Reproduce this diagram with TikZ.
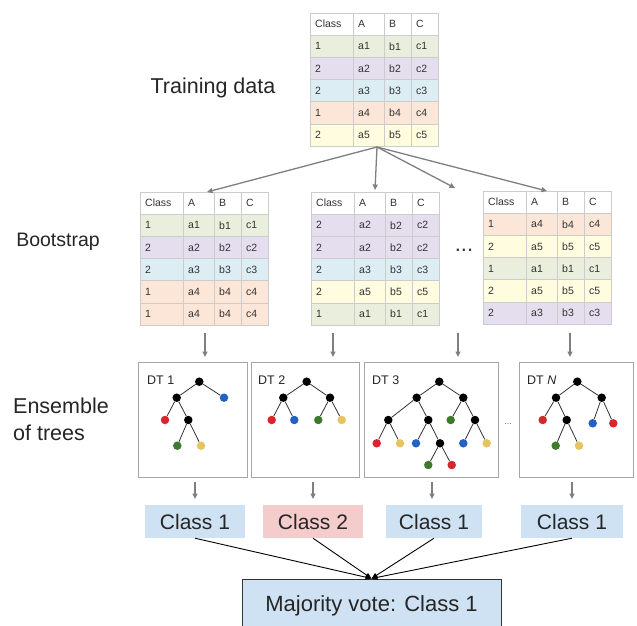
\documentclass[tikz,border=0pt]{standalone}
\usepackage{fontspec}
\setmainfont{Liberation Sans}
\usetikzlibrary{arrows.meta}
\definecolor{rowA}{HTML}{E9EEDD}
\definecolor{rowB}{HTML}{E4DEEE}
\definecolor{rowC}{HTML}{DCEEF4}
\definecolor{rowD}{HTML}{FCE6D8}
\definecolor{rowE}{HTML}{FFFCE0}
\definecolor{gridc}{HTML}{CCCCCC}
\definecolor{txt}{HTML}{333333}
\definecolor{garr}{HTML}{7F7F7F}
\definecolor{boxc}{HTML}{A6A6A6}
\definecolor{clsblue}{HTML}{CFE2F3}
\definecolor{clspink}{HTML}{F4CCCC}
\definecolor{tred}{HTML}{D9262B}
\definecolor{tblue}{HTML}{2461C4}
\definecolor{tgreen}{HTML}{3D7A2C}
\definecolor{tyellow}{HTML}{E6C462}
\newcommand\rftab[4]{%
\begin{scope}[shift={(#2,#3)}]
 \node[tframe] (#1) at (64,66.6) {};
 \fill[white] (0,0) rectangle (128,22.2);
 \node[cell] (#1-h0) at (5,11.1) {Class};
 \node[cell] (#1-h1) at (48,11.1) {A};
 \node[cell] (#1-h2) at (79,11.1) {B};
 \node[cell] (#1-h3) at (106,11.1) {C};
 \foreach \c/\k/\n [count=\i] in {#4} {
   \fill[fill=row\k] (0,\i*22.2) rectangle (128,\i*22.2+22.2);
   \node[cell] (#1-r\i-0) at (5,\i*22.2+11.1) {\c};
   \node[cell] (#1-r\i-1) at (48,\i*22.2+11.1) {a\n};
   \node[cell] (#1-r\i-2) at (79,\i*22.2+11.1) {b\n};
   \node[cell] (#1-r\i-3) at (106,\i*22.2+11.1) {c\n};
 }
 \draw[gridl] (0,0) rectangle (128,133.2);
 \foreach \yy in {22.2,44.4,66.6,88.8,111} \draw[gridl] (0,\yy) -- (128,\yy);
 \foreach \xx in {43,74,101} \draw[gridl] (\xx,0) -- (\xx,133.2);
\end{scope}}
\begin{document}
\begin{tikzpicture}[x=1pt,y=-1pt,
  cell/.style={anchor=west, inner sep=0pt, font=\fontsize{10.5}{11}\selectfont, text=txt},
  tframe/.style={draw=none, inner sep=0pt, minimum width=128pt, minimum height=133.2pt},
  gridl/.style={draw=gridc, line width=0.7pt},
  garrow/.style={draw=garr, line width=1.3pt, -{Triangle[length=5.5pt,width=5pt]}},
  barrow/.style={draw=black, line width=0.9pt, -{Triangle[length=6pt,width=5pt]}},
  lbl/.style={font=\fontsize{21.5}{27}\selectfont, text=black!85, inner sep=0pt},
  treebox/.style={draw=boxc, line width=0.9pt, minimum height=115pt, inner sep=0pt},
  dtl/.style={anchor=west, font=\fontsize{12.5}{14}\selectfont, text=black!85, inner sep=0pt},
  clsbox/.style={minimum width=100pt, minimum height=33pt, inner sep=0pt, font=\fontsize{21}{24}\selectfont, text=black!85},
  dot/.style={circle, inner sep=0pt, minimum size=8.5pt},
  bk/.style={dot, fill=black},
  rd/.style={dot, fill=tred},
  bl/.style={dot, fill=tblue},
  gr/.style={dot, fill=tgreen},
  yl/.style={dot, fill=tyellow},
  edge/.style={draw=black!80, line width=0.8pt}]
\useasboundingbox (0,0) rectangle (637,626);
\clip (0,0) rectangle (637,626);
\fill[white] (0,0) rectangle (637,626);

% tables
\rftab{t0}{310}{13}{1/A/1,2/B/2,2/C/3,1/D/4,2/E/5}
\rftab{t1}{140}{192}{1/A/1,2/B/2,2/C/3,1/D/4,1/D/4}
\rftab{t2}{311}{192}{2/B/2,2/B/2,2/C/3,2/E/5,1/A/1}
\rftab{t3}{483}{191}{1/D/4,2/E/5,1/A/1,2/E/5,2/B/3}

% labels
\node[lbl] (ltrain) at (213,88) {Training data};
\node[lbl, font=\fontsize{19.5}{24}\selectfont] (lboot) at (58,242) {Bootstrap};
\node[lbl, anchor=west, align=left] (lens) at (13,419) {Ensemble\\of trees};
\node[inner sep=0pt, font=\fontsize{22}{22}\selectfont, text=black!80] (dots1) at (464,250) {...};

% bootstrap arrows
\coordinate (src) at (377,147);
\coordinate (in1) at (207,192);
\coordinate (in2) at (375,190);
\coordinate (in3) at (455,188);
\coordinate (in4) at (547,191);
\draw[garrow] (src) -- (in1);
\draw[garrow] (src) -- (in2);
\draw[garrow] (src) -- (in3);
\draw[garrow] (src) -- (in4);

% tree boxes
\node[treebox, minimum width=109pt] (b1) at (192.5,419.5) {};
\node[treebox, minimum width=108pt] (b2) at (305,419.5) {};
\node[treebox, minimum width=134pt] (b3) at (431,419.5) {};
\node[treebox, minimum width=114pt] (b4) at (576,419.5) {};
\node[inner sep=0pt, font=\fontsize{9}{9}\selectfont, text=black!60] (dots2) at (508,424) {...};

\node[dtl] (dt1) at (147,380) {DT 1};
\node[dtl] (dt2) at (258,380) {DT 2};
\node[dtl] (dt3) at (372,380) {DT 3};
\node[dtl] (dt4) at (527,380) {DT \textit{N}};

% arrows table -> tree
\foreach \xx/\nm in {205/1,333/2,458/3,570/4}{
  \coordinate (ta\nm) at (\xx,333);
  \coordinate (tb\nm) at (\xx,357);
  \draw[garrow] (ta\nm) -- (tb\nm);
}

% tree 1
\node[bk] (a0) at (199.3,381.7) {};
\node[bk] (a1) at (176.7,397.7) {};
\node[bl] (a2) at (224,397.7) {};
\node[rd] (a3) at (165,420) {};
\node[bk] (a4) at (188.3,420) {};
\node[gr] (a5) at (177.3,445.7) {};
\node[yl] (a6) at (201,445.7) {};
\foreach \p/\q in {a0/a1,a0/a2,a1/a3,a1/a4,a4/a5,a4/a6} \draw[edge] (\p) -- (\q);

% tree 2
\node[bk] (b0n) at (306.7,381.7) {};
\node[bk] (b1n) at (283.3,397.7) {};
\node[bk] (b2n) at (330,397.7) {};
\node[rd] (b3n) at (271.7,420) {};
\node[bl] (b4n) at (294.3,420) {};
\node[gr] (b5n) at (318.3,420) {};
\node[yl] (b6n) at (341.7,420) {};
\foreach \p/\q in {b0n/b1n,b0n/b2n,b1n/b3n,b1n/b4n,b2n/b5n,b2n/b6n} \draw[edge] (\p) -- (\q);

% tree 3
\node[bk] (c0) at (439.3,381.7) {};
\node[bk] (c1) at (416.7,397.7) {};
\node[bk] (c2) at (463.3,397.7) {};
\node[bk] (c3) at (388.3,420) {};
\node[bk] (c4) at (428.3,420) {};
\node[gr] (c5) at (450.7,420) {};
\node[bk] (c6) at (475,420) {};
\node[rd] (c7) at (376.7,443.3) {};
\node[yl] (c8) at (400,443.3) {};
\node[bl] (c9) at (416,443.3) {};
\node[bk] (c10) at (440,443.3) {};
\node[bl] (c11) at (463.3,443.3) {};
\node[yl] (c12) at (486.7,443.3) {};
\node[gr] (c13) at (428.3,465) {};
\node[rd] (c14) at (451.7,465) {};
\foreach \p/\q in {c0/c1,c0/c2,c1/c3,c1/c4,c2/c5,c2/c6,c3/c7,c3/c8,c4/c9,c4/c10,c6/c11,c6/c12,c10/c13,c10/c14} \draw[edge] (\p) -- (\q);

% tree N
\node[bk] (d0) at (577.3,381.7) {};
\node[bk] (d1) at (556,397.7) {};
\node[bk] (d2) at (601.7,397.7) {};
\node[rd] (d3) at (542.7,420) {};
\node[bk] (d4) at (566.7,420) {};
\node[bl] (d5) at (592.7,423.3) {};
\node[rd] (d6) at (613.3,423.3) {};
\node[gr] (d7) at (555.7,445.7) {};
\node[yl] (d8) at (579,445.7) {};
\foreach \p/\q in {d0/d1,d0/d2,d1/d3,d1/d4,d2/d5,d2/d6,d4/d7,d4/d8} \draw[edge] (\p) -- (\q);

% class boxes
\node[clsbox, fill=clsblue] (cls1) at (195,521.5) {Class 1};
\node[clsbox, fill=clspink] (cls2) at (313,521.5) {Class 2};
\node[clsbox, fill=clsblue, minimum width=96pt] (cls3) at (434,521.5) {Class 1};
\node[clsbox, fill=clsblue, minimum width=102pt] (cls4) at (572,521.5) {Class 1};

\foreach \xx/\nm in {195/1,313/2,432/3,572/4}{
  \coordinate (tc\nm) at (\xx,482);
  \coordinate (td\nm) at (\xx,499);
  \draw[garrow] (tc\nm) -- (td\nm);
}

% majority vote
\node[draw=black!80, line width=1pt, fill=clsblue, minimum width=259pt, minimum height=54pt, inner sep=0pt, font=\fontsize{22}{24}\selectfont, text=black!85] (mv) at (371.5,606) {Majority vote: Class 1};

\foreach \k in {1,2,3,4} \draw[barrow] (cls\k.south) -- (mv.north);
\end{tikzpicture}
\end{document}
